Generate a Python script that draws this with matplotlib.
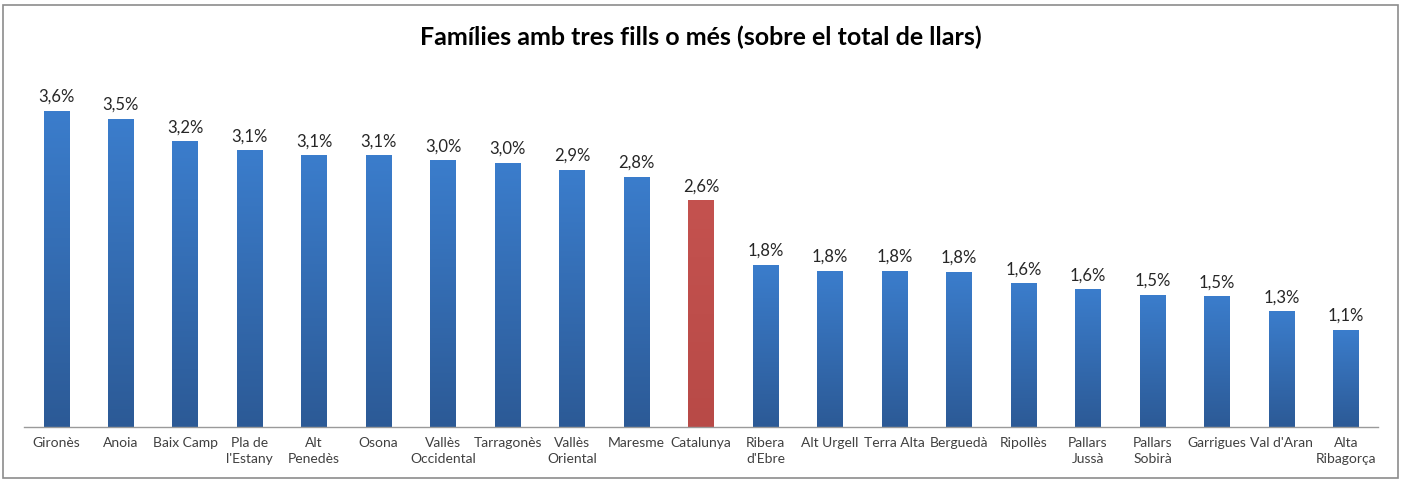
import matplotlib
matplotlib.use("Agg")
import matplotlib.pyplot as plt
import numpy as np
from matplotlib.colors import LinearSegmentedColormap
from matplotlib.patches import Rectangle

# Comarques ordenades de més a menys, amb Catalunya com a referència
comarques = ["Gironès", "Anoia", "Baix Camp", "Pla de\nl'Estany", "Alt\nPenedès",
             "Osona", "Vallès\nOccidental", "Tarragonès", "Vallès\nOriental",
             "Maresme", "Catalunya", "Ribera\nd'Ebre", "Alt Urgell", "Terra Alta",
             "Berguedà", "Ripollès", "Pallars\nJussà", "Pallars\nSobirà",
             "Garrigues", "Val d'Aran", "Alta\nRibagorça"]
percentatge = [3.59, 3.50, 3.24, 3.14, 3.08, 3.08, 3.03, 3.00, 2.92, 2.84,
               2.57, 1.84, 1.77, 1.77, 1.76, 1.63, 1.56, 1.50, 1.48, 1.31, 1.10]
destacat = "Catalunya"

plt.rcParams['font.family'] = ['Lato', 'DejaVu Sans']

fig = plt.figure(figsize=(14.02, 4.8), dpi=100)
ax = fig.add_axes([0.017, 0.1104, 0.966, 0.7333])

blaus = LinearSegmentedColormap.from_list("blaus", ["#2c5a96", "#3b7dcc"])
vermells = LinearSegmentedColormap.from_list("vermells", ["#b84a47", "#c4524f"])
grad = np.linspace(0, 1, 256).reshape(-1, 1)

amplada = 0.39
x = np.arange(len(comarques))
for i, (nom, v) in enumerate(zip(comarques, percentatge)):
    cmap = vermells if nom == destacat else blaus
    ax.imshow(grad, extent=[i - amplada / 2, i + amplada / 2, 0, v],
              origin="lower", aspect="auto", cmap=cmap, zorder=2)
    ax.annotate(f"{v:.1f}%".replace(".", ","), (i, v), xytext=(0, 4.5),
                textcoords="offset points", ha="center", va="bottom",
                fontsize=12, color="#262626")

ax.set_xlim(-0.5, len(comarques) - 0.5)
ax.set_ylim(0, 4)
ax.set_xticks(x)
ax.set_xticklabels(comarques, fontsize=10, color="#404040", linespacing=1.45)
ax.tick_params(axis="x", length=0, pad=7)
ax.set_yticks([])
for s in ["top", "right", "left"]:
    ax.spines[s].set_visible(False)
ax.spines["bottom"].set_color("#9a9a9a")
ax.spines["bottom"].set_linewidth(1)

fig.text(0.5, 0.923, "Famílies amb tres fills o més (sobre el total de llars)",
         ha="center", va="center", fontsize=18, fontweight="bold", color="black")

# marc del gràfic
fig.patches.append(Rectangle((0.002, 0.004), 0.995, 0.985, transform=fig.transFigure,
                             fill=False, edgecolor="#8c8c8c", linewidth=1.2))

fig.savefig("out.png", dpi=100)
